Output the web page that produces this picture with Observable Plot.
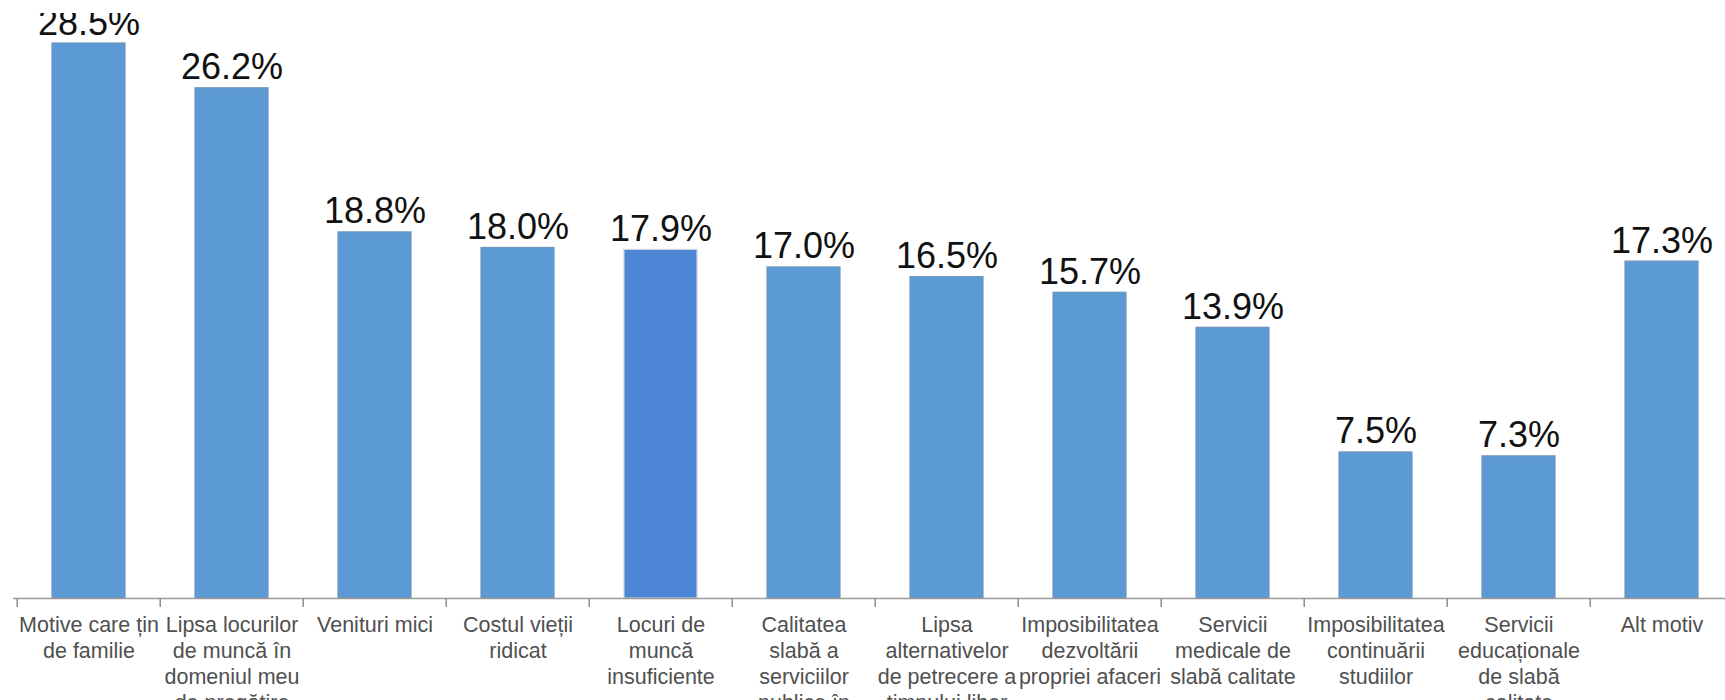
<!DOCTYPE html>
<html>
<head>
<meta charset="utf-8">
<script src="https://cdn.jsdelivr.net/npm/d3@7"></script>
<script src="https://cdn.jsdelivr.net/npm/@observablehq/plot@0.6"></script>
<style>
  html, body { margin: 0; padding: 0; background: #fff; }
  #chart { width: 1725px; height: 700px; overflow: hidden; }
</style>
</head>
<body>
<div id="chart"></div>
<script>
// Categories (reasons)
const categories = [
  "Motive care țin de familie",
  "Lipsa locurilor de muncă în domeniul meu de pregătire",
  "Venituri mici",
  "Costul vieții ridicat",
  "Locuri de muncă insuficiente",
  "Calitatea slabă a serviciilor publice în",
  "Lipsa alternativelor de petrecere a timpului liber",
  "Imposibilitatea dezvoltării propriei afaceri",
  "Servicii medicale de slabă calitate",
  "Imposibilitatea continuării studiilor",
  "Servicii educaționale de slabă calitate",
  "Alt motiv"
];

// Values (%)
const values = [28.5, 26.2, 18.8, 18.0, 17.9, 17.0, 16.5, 15.7, 13.9, 7.5, 7.3, 17.3];

// Tick labels as wrapped in the original
const tickLabels = [
  "Motive care țin\nde familie",
  "Lipsa locurilor\nde muncă în\ndomeniul meu\nde pregătire",
  "Venituri mici",
  "Costul vieții\nridicat",
  "Locuri de\nmuncă\ninsuficiente",
  "Calitatea\nslabă a\nserviciilor\npublice în",
  "Lipsa\nalternativelor\nde petrecere a\ntimpului liber",
  "Imposibilitatea\ndezvoltării\npropriei afaceri",
  "Servicii\nmedicale de\nslabă calitate",
  "Imposibilitatea\ncontinuării\nstudiilor",
  "Servicii\neducaționale\nde slabă\ncalitate",
  "Alt motiv"
];

const data = categories.map((c, i) => ({cat: c, value: values[i], label: tickLabels[i]}));
const highlighted = categories[4];

const W = 1725, H = 700;
const xRange = [13, 1736];
const step = (xRange[1] - xRange[0]) / categories.length;

const chart = Plot.plot({
  width: W,
  height: H,
  marginLeft: 13,
  marginRight: 0,
  marginTop: 13,
  marginBottom: 102,
  style: {fontFamily: "'Liberation Sans', Arial, sans-serif", background: "#fff", overflow: "visible"},
  x: {domain: categories, range: xRange, paddingInner: 0.49, paddingOuter: 0.245, axis: null},
  y: {domain: [0, 28.5], range: [598, 43], axis: null},
  marks: [
    Plot.barY(data, {
      x: "cat", y: "value",
      fill: d => d.cat === highlighted ? "#4e86d6" : "#5b9ad5",
      stroke: d => d.cat === highlighted ? "#c9d2de" : "#6f95bd",
      strokeWidth: 1.2
    }),
    Plot.ruleY([0], {stroke: "#9a9a9a", strokeWidth: 1.5}),
    Plot.axisX({tickSize: 9, tickFormat: () => "", dx: -step / 2, stroke: "#8c8c8c", strokeWidth: 1.5, label: null}),
    Plot.text(data, {
      x: "cat", y: "value",
      text: d => d.value.toFixed(1) + "%",
      lineAnchor: "bottom", dy: -9,
      fontSize: 36, fill: "#111",
      clip: true
    }),
    Plot.text(data, {
      x: "cat", y: () => 0,
      text: "label",
      lineAnchor: "top", dy: 15,
      fontSize: 21.5, lineHeight: 1.21,
      fill: "#505050"
    })
  ]
});

document.getElementById("chart").appendChild(chart);
</script>
</body>
</html>
